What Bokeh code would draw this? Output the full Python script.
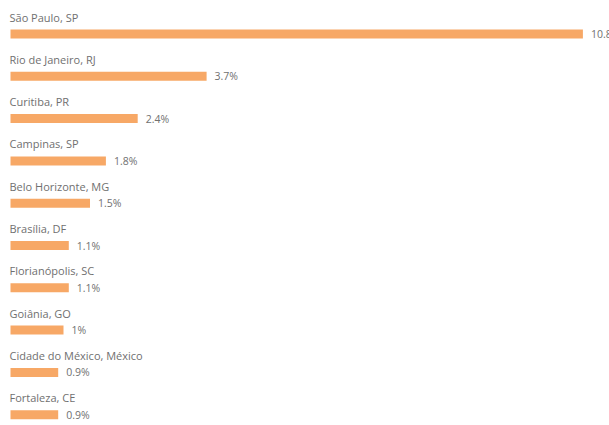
from bokeh.plotting import figure
from bokeh.models import Range1d, ColumnDataSource
from bokeh.core.properties import value
from bokeh.embed import file_html
from bokeh.resources import INLINE

cities = ["São Paulo, SP", "Rio de Janeiro, RJ", "Curitiba, PR", "Campinas, SP",
          "Belo Horizonte, MG", "Brasília, DF", "Florianópolis, SC", "Goiânia, GO",
          "Cidade do México, México", "Fortaleza, CE"]
shares = [10.8, 3.7, 2.4, 1.8, 1.5, 1.1, 1.1, 1.0, 0.9, 0.9]

def fmt(v):
    s = ("%.1f" % v).rstrip("0").rstrip(".")
    return s + "%"

W, H = 609, 425
px_per_unit_x = 53.0
px_per_row = 42.3
x0 = -10.0 / px_per_unit_x
y_top = -33.5 / px_per_row

idx = list(range(len(cities)))
src = ColumnDataSource(dict(
    y=idx,
    v=shares,
    lab_y=[i - 17.0 / px_per_row for i in idx],
    lab_x=[x0 + 9.0 / px_per_unit_x] * len(idx),
    city=cities,
    txt=[fmt(v) for v in shares],
))

p = figure(width=W, height=H, output_backend="svg", toolbar_location=None,
           x_range=Range1d(x0, x0 + W / px_per_unit_x),
           y_range=Range1d(y_top + H / px_per_row, y_top),
           min_border=0, outline_line_color=None, background_fill_color="white",
           border_fill_color="white")
p.axis.visible = False
p.grid.visible = False

p.hbar(y="y", right="v", left=0, height=9.0 / px_per_row, source=src,
       fill_color="#F7A866", line_color=None)

p.text(x="lab_x", y="lab_y", text="city", source=src, text_font=value("Open Sans"),
       text_font_size="11px", text_color="#707070", text_baseline="middle", text_align="left")
p.text(x="v", y="y", text="txt", source=src, x_offset=8, text_font=value("Open Sans"),
       text_font_size="10.5px", text_color="#707070", text_baseline="middle", text_align="left")

open("out.html", "w").write(file_html(p, INLINE))
